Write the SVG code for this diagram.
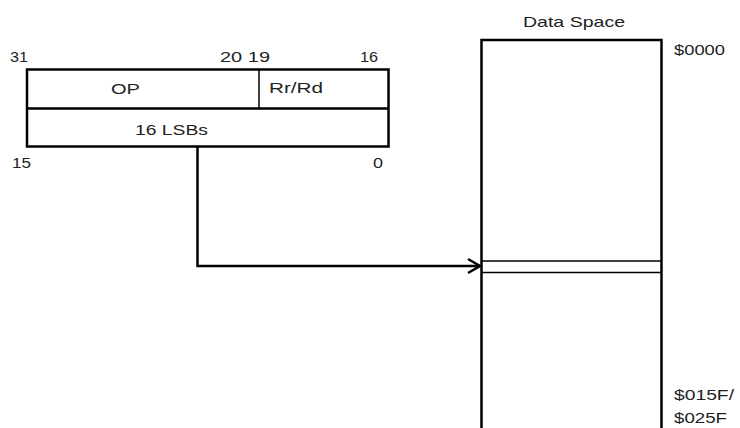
<svg xmlns="http://www.w3.org/2000/svg" width="740" height="428" viewBox="0 0 740 428">
<style>
  .t { font-family: "Liberation Sans", Arial, sans-serif; font-size: 15px; fill: #222; }
  .box { fill: #fff; stroke: #000; stroke-width: 2.5; }
  .ln { stroke: #000; stroke-width: 2.5; fill: none; }
  .thin { stroke: #000; stroke-width: 1.5; fill: none; }
</style>
<defs>
  <marker id="arr" markerUnits="userSpaceOnUse" markerWidth="20" markerHeight="20" viewBox="-14 -10 16 20" refX="0" refY="0" orient="auto">
    <polyline points="-12,-7 0,0 -12,7" fill="none" stroke="#000" stroke-width="2.5"/>
  </marker>
</defs>
<rect width="740" height="428" fill="#fff"/>

<g id="instruction">
  <rect class="box" x="27" y="69.5" width="361.5" height="77"/>
  <line class="ln" x1="27" y1="108.5" x2="388.5" y2="108.5"/>
  <line class="thin" x1="259" y1="69.5" x2="259" y2="108.5"/>
  <text class="t" x="111" y="94" textLength="29" lengthAdjust="spacingAndGlyphs">OP</text>
  <text class="t" x="269" y="93" textLength="54" lengthAdjust="spacingAndGlyphs">Rr/Rd</text>
  <text class="t" x="135" y="135" textLength="73" lengthAdjust="spacingAndGlyphs">16 LSBs</text>
  <text class="t" x="10" y="62" textLength="18" lengthAdjust="spacingAndGlyphs">31</text>
  <text class="t" x="220" y="62" textLength="50" lengthAdjust="spacingAndGlyphs">20 19</text>
  <text class="t" x="360" y="62" textLength="18" lengthAdjust="spacingAndGlyphs">16</text>
  <text class="t" x="12" y="168" textLength="19" lengthAdjust="spacingAndGlyphs">15</text>
  <text class="t" x="373" y="168" textLength="10" lengthAdjust="spacingAndGlyphs">0</text>
</g>

<g id="dataspace">
  <text class="t" x="523" y="27" textLength="102" lengthAdjust="spacingAndGlyphs">Data Space</text>
  <path class="ln" d="M481.5 430 V40 H661.5 V430"/>
  <line class="thin" x1="481.5" y1="261" x2="661.5" y2="261"/>
  <line class="thin" x1="481.5" y1="272.5" x2="661.5" y2="272.5" stroke="#555"/>
  <text class="t" x="674" y="55" textLength="51" lengthAdjust="spacingAndGlyphs">$0000</text>
  <text class="t" x="674" y="400" textLength="60" lengthAdjust="spacingAndGlyphs">$015F/</text>
  <text class="t" x="674" y="423" textLength="53" lengthAdjust="spacingAndGlyphs">$025F</text>
</g>

<g id="connectors">
  <path class="ln" d="M197.5 147 V266 H480" marker-end="url(#arr)"/>
</g>
</svg>
